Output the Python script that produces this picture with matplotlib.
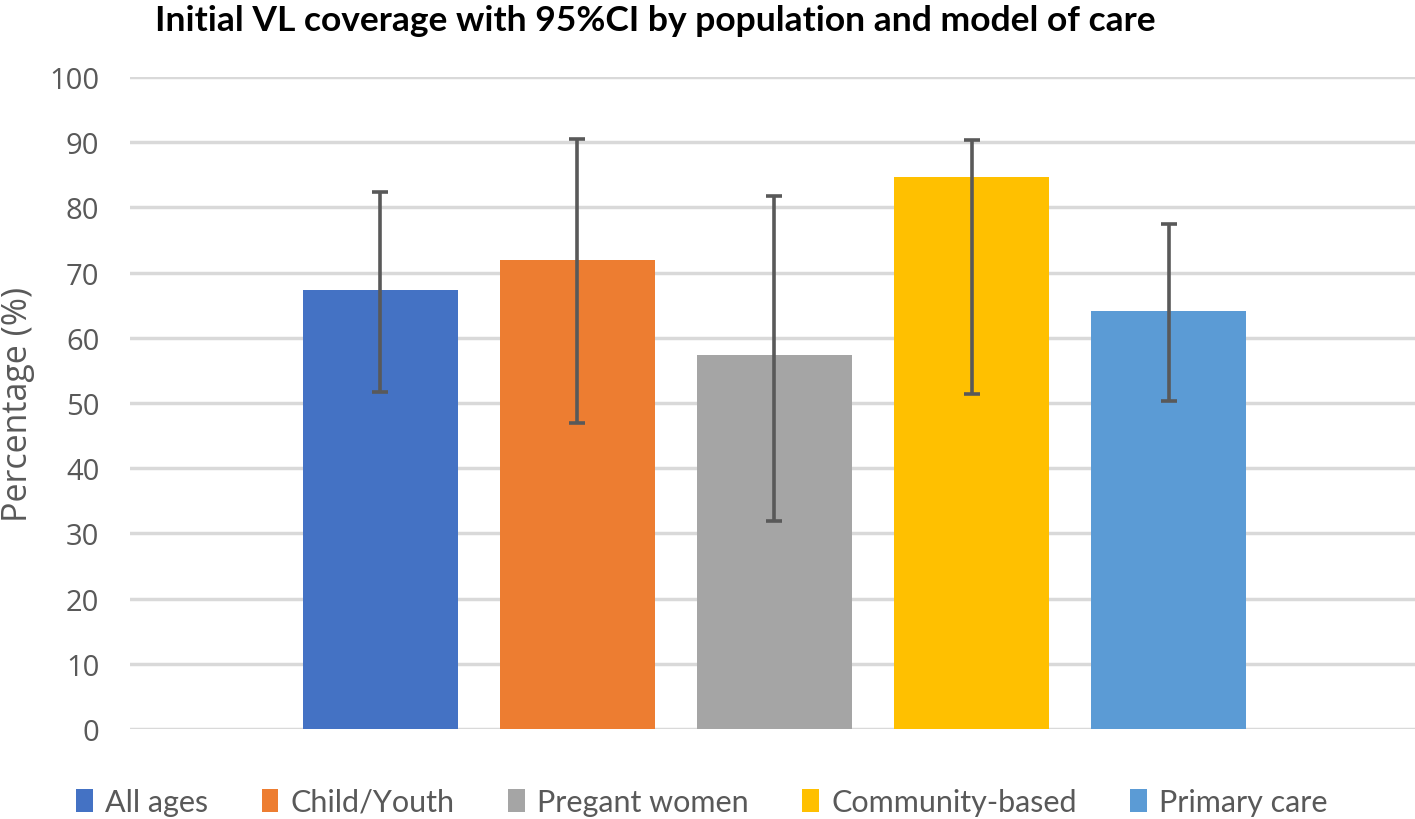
import matplotlib
matplotlib.use("Agg")
import matplotlib.pyplot as plt
from matplotlib.patches import Patch

categories = ["All ages", "Child/Youth", "Pregant women", "Community-based", "Primary care"]
values = [67.4, 71.9, 57.3, 84.7, 64.1]
ci_low = [51.7, 47.0, 31.9, 51.4, 50.3]
ci_high = [82.4, 90.5, 81.7, 90.4, 77.5]
colors = ["#4472C4", "#ED7D31", "#A5A5A5", "#FFC000", "#5B9BD5"]
yticks = [0, 10, 20, 30, 40, 50, 60, 70, 80, 90, 100]

fig = plt.figure(figsize=(14.15, 8.2), dpi=100)
ax = fig.add_axes([130 / 1415, 1 - 730 / 820, 1 - 130 / 1415, (730 - 78) / 820])

x = list(range(len(categories)))
yerr = [[v - l for v, l in zip(values, ci_low)], [h - v for v, h in zip(values, ci_high)]]
ax.bar(x, values, width=0.787, color=colors, zorder=2)
ax.errorbar(x, values, yerr=yerr, fmt="none", ecolor="#595959", elinewidth=2.6,
            capsize=6, capthick=2.6, zorder=3)

ax.set_xlim(-1.27, 5.25)
ax.set_ylim(0, 100)
ax.set_yticks(yticks)
ax.set_xticks([])
ax.yaxis.grid(True, color="#D9D9D9", linewidth=2.5, zorder=0)
ax.set_axisbelow(True)
for s in ax.spines.values():
    s.set_visible(False)
ax.tick_params(axis="y", length=0, pad=22, labelsize=21, labelcolor="#595959")
for lab in ax.get_yticklabels():
    lab.set_fontfamily("Open Sans")
ax.set_ylabel("Percentage (%)", fontsize=24.5, color="#595959", family="Open Sans",
              va="center", ha="center")
ax.yaxis.set_label_coords(-112 / 1285, 0.5)

fig.text(155 / 1415, 1 - 21 / 820, "Initial VL coverage with 95%CI by population and model of care",
         fontsize=25.5, fontweight="bold", family="Lato", ha="left", va="center", color="black")

handles = [Patch(facecolor=c, edgecolor="none") for c in colors]
leg = fig.legend(handles, categories, loc="center", bbox_to_anchor=(702 / 1415, 1 - 803 / 820),
                 ncol=5, frameon=False, prop={"family": "Lato", "size": 22},
                 handlelength=0.55, handleheight=0.8, handletextpad=0.4, columnspacing=1.75)
for t in leg.get_texts():
    t.set_color("#595959")

fig.savefig("out.png", dpi=100)
